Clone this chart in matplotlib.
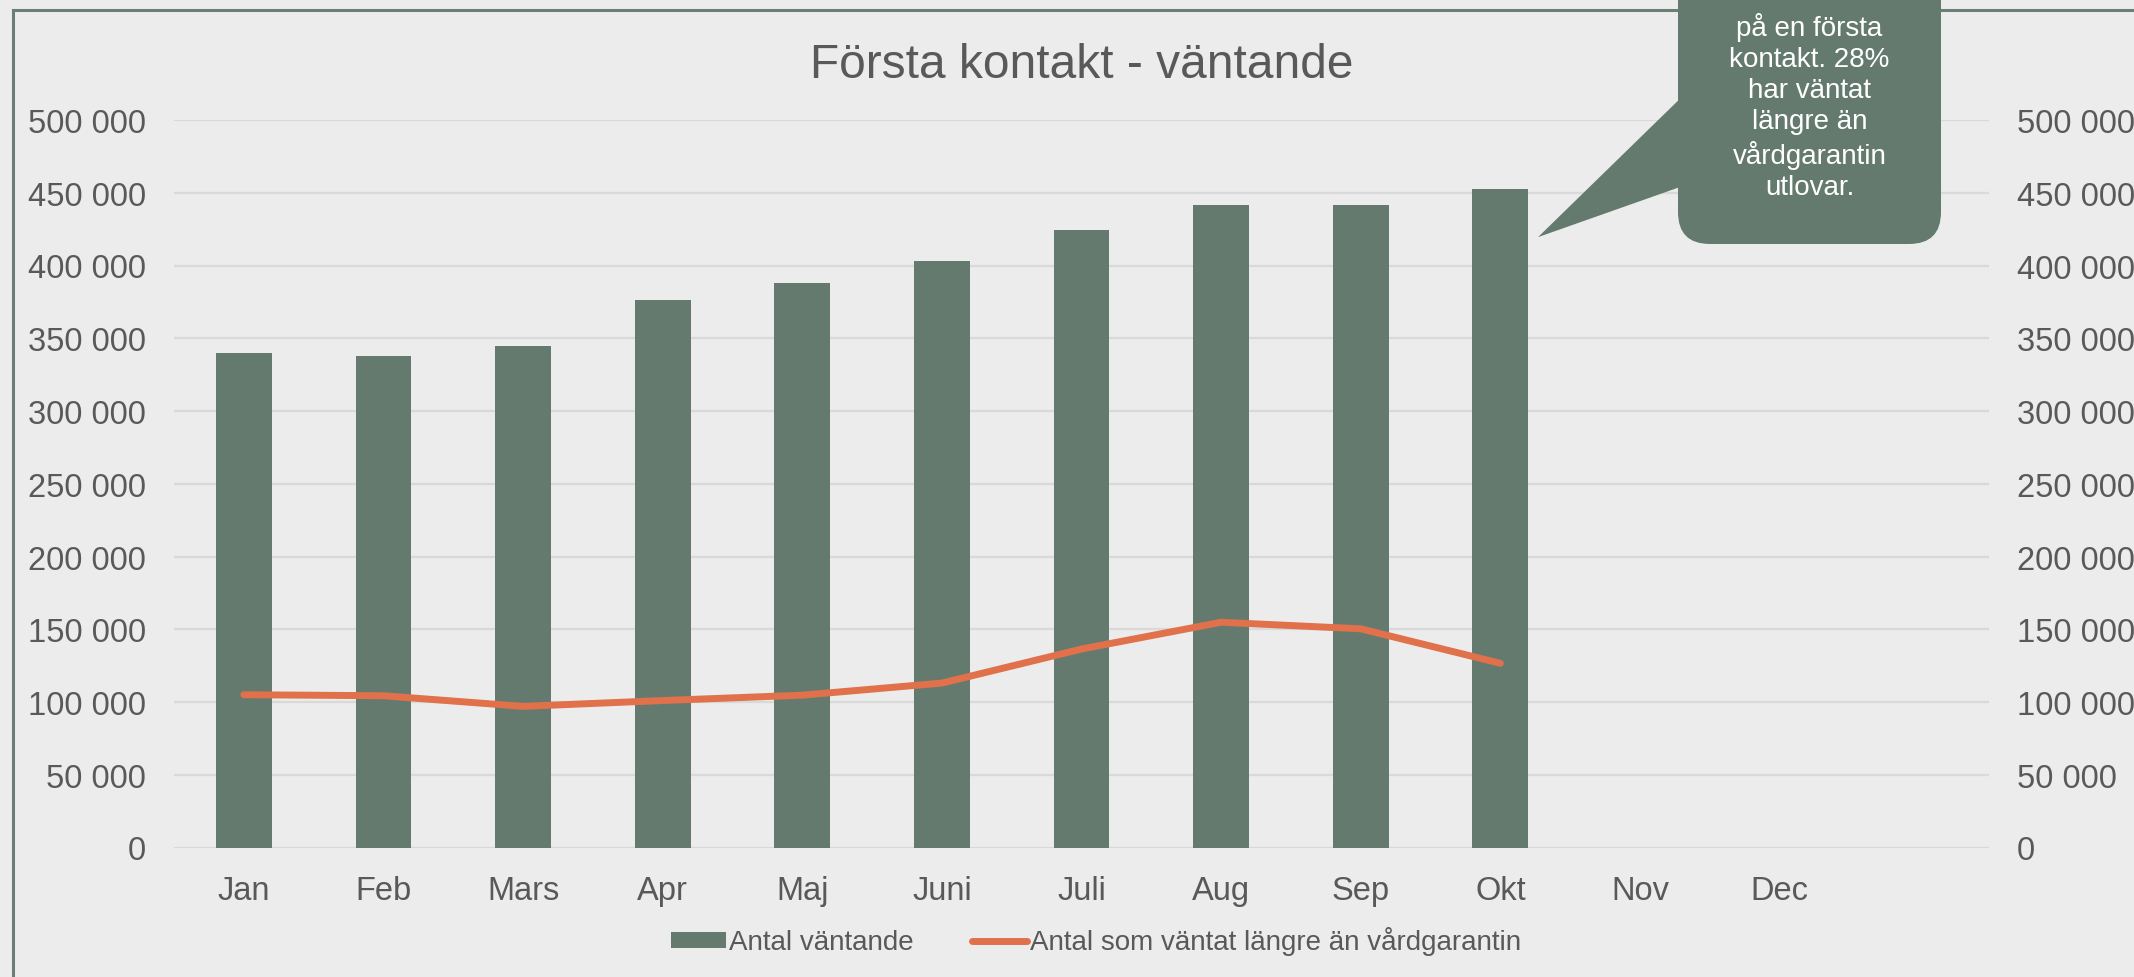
import numpy as np
import matplotlib
matplotlib.use("Agg")
import matplotlib.pyplot as plt
from matplotlib.patches import Patch, FancyBboxPatch, Polygon
from matplotlib.lines import Line2D
from matplotlib.transforms import IdentityTransform

# data
months = ["Jan", "Feb", "Mars", "Apr", "Maj", "Juni", "Juli", "Aug", "Sep", "Okt", "Nov", "Dec"]
waiting = [340000, 337500, 345000, 376500, 388000, 403000, 424500, 441500, 441500, 452500]
waited_too_long = [105000, 104300, 97000, 101000, 104700, 113000, 136400, 154800, 150300, 126600]
yticks = np.arange(0, 500001, 50000)

title = "Första kontakt - väntande"
bar_label = "Antal väntande"
line_label = "Antal som väntat längre än vårdgarantin"
callout_text = "på en första\nkontakt. 28%\nhar väntat\nlängre än\nvårdgarantin\nutlovar."

BG = "#ececec"
BAR = "#647a6f"
LINE = "#e0714a"
TXT = "#595959"
GRID = "#d9d9d9"

plt.rcParams["font.family"] = ["Liberation Sans", "DejaVu Sans"]

W, H = 2134, 978
fig = plt.figure(figsize=(W / 100, H / 100), dpi=100, facecolor=BG)

# axes placed by pixel position of plot area
ax = fig.add_axes([174 / W, 1 - 848.5 / H, (1989 - 174) / W, (848.5 - 121) / H])
ax.set_facecolor(BG)
x = np.arange(len(months))
ax.bar(x[:len(waiting)], waiting, width=0.4, color=BAR, zorder=2)
ax.set_xlim(-0.5, 12.5)
ax.set_ylim(0, 500000)
ax.set_yticks(yticks)
ax.set_yticklabels([f"{v:,}".replace(",", " ") for v in yticks])
ax.set_xticks(x)
ax.set_xticklabels(months)
ax.grid(axis="y", color=GRID, linewidth=1.6)
ax.set_axisbelow(True)
for s in ax.spines.values():
    s.set_visible(False)
ax.tick_params(axis="both", length=0, labelsize=23.5, colors=TXT)
ax.tick_params(axis="y", pad=20)
ax.tick_params(axis="x", pad=20)

# secondary axis for the line (same scale, labels on right)
ax2 = ax.twinx()
ax2.plot(x[:len(waited_too_long)], waited_too_long, color=LINE, linewidth=5,
         solid_capstyle="round", solid_joinstyle="round", zorder=3)
ax2.set_ylim(0, 500000)
ax2.set_yticks(yticks)
ax2.set_yticklabels([f"{v:,}".replace(",", " ") for v in yticks])
for s in ax2.spines.values():
    s.set_visible(False)
ax2.tick_params(axis="y", length=0, labelsize=23.5, colors=TXT, pad=20)

fig.text(0.507, 1 - 65 / H, title, ha="center", va="center", fontsize=34.5, color=TXT)

handles = [Patch(facecolor=BAR, label=bar_label),
           Line2D([], [], color=LINE, linewidth=5, solid_capstyle="round", label=line_label)]
fig.legend(handles=handles, loc="center", bbox_to_anchor=(1096 / W, 1 - 942 / H), ncol=2,
           frameon=False, fontsize=20, labelcolor=TXT, handlelength=2.0, handleheight=0.5,
           handletextpad=0.1, columnspacing=2.1)

# outer frame (left and top edges visible)
frame_kw = dict(color="#6b7f74", linewidth=2.2, transform=fig.transFigure)
fig.add_artist(Line2D([13 / W, 13 / W], [0, 1 - 11 / H], **frame_kw))
fig.add_artist(Line2D([13 / W, 1], [1 - 11 / H, 1 - 11 / H], **frame_kw))

# speech-bubble callout pointing at the Okt bar
fig.canvas.draw()
tip = ax.transData.transform((9.27, waiting[9] - 33000))
bx0, bx1, by0 = 1678, 1941, H - 245
box = FancyBboxPatch((bx0, by0), bx1 - bx0, 400, boxstyle="round,pad=0,rounding_size=32",
                     facecolor=BAR, edgecolor="none", transform=IdentityTransform(), zorder=5)
fig.add_artist(box)
pointer = Polygon([tip, (1690, H - 90), (1690, H - 184.5)], closed=True, facecolor=BAR,
                  edgecolor="none", transform=IdentityTransform(), zorder=5)
fig.add_artist(pointer)
fig.text((bx0 + bx1) / 2 / W, 1 - 107 / H, callout_text, ha="center", va="center",
         fontsize=20, color="white", linespacing=1.25, zorder=6)

fig.savefig("out.png", dpi=100, facecolor=BG)
